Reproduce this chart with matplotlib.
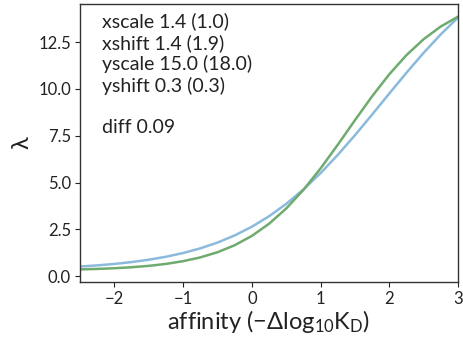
import matplotlib
matplotlib.use("Agg")
import matplotlib.pyplot as plt

plt.rcParams['font.family'] = ['Lato', 'DejaVu Sans']
plt.rcParams['mathtext.fontset'] = 'custom'
plt.rcParams['mathtext.rm'] = 'Lato'
plt.rcParams['mathtext.it'] = 'Lato:italic'
plt.rcParams['mathtext.bf'] = 'Lato:bold'

# values
affinity = [-2.5, -2.25, -2.0, -1.75, -1.5, -1.25, -1.0, -0.75, -0.5, -0.25, 0.0,
            0.25, 0.5, 0.75, 1.0, 1.25, 1.5, 1.75, 2.0, 2.25, 2.5, 2.75, 3.0]
lam_blue = [0.518, 0.579, 0.657, 0.756, 0.881, 1.040, 1.239, 1.488, 1.797, 2.178, 2.642,
            3.200, 3.861, 4.629, 5.502, 6.473, 7.523, 8.626, 9.750, 10.859, 11.922, 12.910, 13.804]
lam_green = [0.364, 0.390, 0.427, 0.480, 0.554, 0.658, 0.804, 1.005, 1.280, 1.655, 2.152,
             2.799, 3.615, 4.605, 5.753, 7.014, 8.324, 9.602, 10.777, 11.801, 12.652, 13.331, 13.856]

info_lines = ["xscale 1.4 (1.0)", "xshift 1.4 (1.9)", "yscale 15.0 (18.0)", "yshift 0.3 (0.3)", "", "diff 0.09"]
xticks = [-2, -1, 0, 1, 2, 3]
yticks = [0.0, 2.5, 5.0, 7.5, 10.0, 12.5]

fig = plt.figure(figsize=(4.63, 3.39), dpi=100)
ax = fig.add_axes([0.173, 0.168, 0.816, 0.820])

ax.plot(affinity, lam_blue, color='#8bbadc', lw=1.8)
ax.plot(affinity, lam_green, color='#6fab6f', lw=1.8)

ax.set_xlim(-2.5, 3)
ax.set_xticks(xticks)
ax.set_xticklabels(['\u22122', '\u22121', '0', '1', '2', '3'])
ax.set_yticks(yticks)
ax.tick_params(labelsize=12, colors='#222222', length=3.5, width=0.8, pad=3)
for s in ax.spines.values():
    s.set_color('#333333')
    s.set_linewidth(1.0)

ax.set_xlabel(r'affinity ($\mathrm{-\Delta log_{10}K_D}$)', fontsize=17, color='#222222', labelpad=1)
ax.set_ylabel('\u03bb', fontsize=17, color='#222222')

ax.text(0.057, 0.97, "\n".join(info_lines), transform=ax.transAxes, va='top', ha='left',
        fontsize=14, linespacing=1.24, color='#222222')

fig.savefig('out.png', dpi=100)
